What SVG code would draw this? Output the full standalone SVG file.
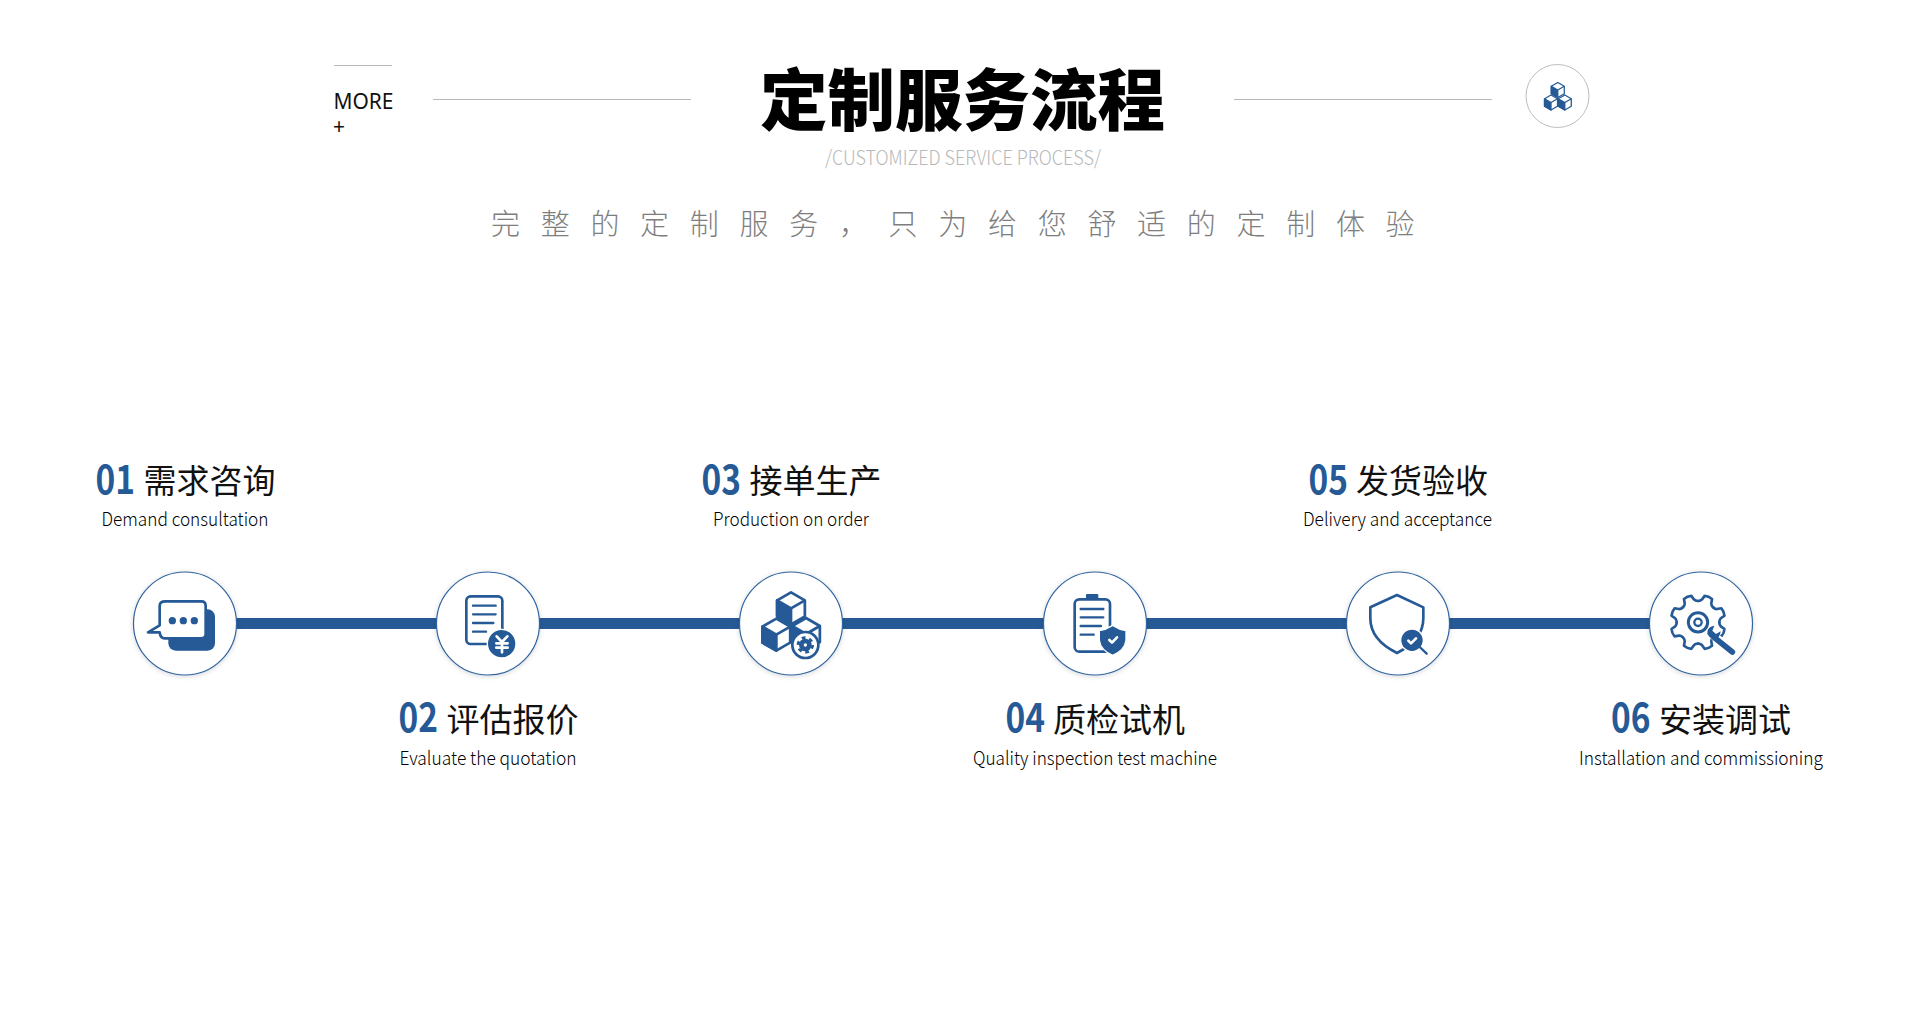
<svg xmlns="http://www.w3.org/2000/svg" xmlns:xlink="http://www.w3.org/1999/xlink" width="1920" height="1025" viewBox="0 0 1920 1025">
<style>
text{font-family:"Noto Sans CJK SC","Noto Sans",sans-serif}
.rule{stroke:#b9b9b9;stroke-width:1;fill:none}
.bar{stroke:#265a96;stroke-width:11;fill:none}
.ring{fill:#fff;stroke:#2f639f;stroke-width:1.2;filter:url(#soft)}
.num{font-weight:700;font-size:40px;fill:#265a96}
.cn{font-weight:400;font-size:33px;fill:#111}
.en{font-weight:300;font-size:19px;fill:#000;text-anchor:middle}
.o{fill:none;stroke:#265a96;stroke-width:8;stroke-linecap:round;stroke-linejoin:round}
.f{fill:#265a96}
.w{fill:none;stroke:#fff;stroke-width:8;stroke-linecap:round;stroke-linejoin:round}
.l{fill:none;stroke:#265a96;stroke-width:7;stroke-linecap:round}
</style>
<defs>
<filter id="soft" x="-20%" y="-20%" width="140%" height="140%"><feDropShadow dx="0" dy="1" stdDeviation="2.500" flood-color="#000" flood-opacity=".16"/></filter>
<g id="cube">
<path d="M0-10 8.660-5V5L0 10-8.660 5V-5Z" fill="#fff" stroke="#265a96" stroke-width="1.700" stroke-linejoin="round"/>
<path d="M-8.660-5 0 0V10L-8.660 5Z" fill="#265a96" stroke="#265a96" stroke-width="1.700" stroke-linejoin="round"/>
<path d="M0 0 8.660-5" fill="none" stroke="#265a96" stroke-width="1.700"/>
</g>
<path id="tooth" d="M-24.500-59Q-17-62-15-68L-12-81Q0-85 12-81L15-68Q17-62 24.500-59" class="o"/>
</defs>
<rect width="1920" height="1025" fill="#fff"/>

<g id="header">
<line class="rule" x1="334" y1="65.500" x2="392" y2="65.500"/>
<text x="333.500" y="109" font-size="21" textLength="60" lengthAdjust="spacingAndGlyphs" fill="#111" style="font-family:'Noto Sans',sans-serif">MORE</text>
<text x="333" y="133.500" font-size="21" fill="#111" style="font-family:'Noto Sans',sans-serif">+</text>
<line class="rule" x1="433" y1="99.500" x2="691" y2="99.500"/>
<line class="rule" x1="1234" y1="99.500" x2="1492" y2="99.500"/>
<text x="760" y="124.500" font-size="67.500" font-weight="900" fill="#000">定制服务流程</text>
<text x="825" y="165" font-size="20" font-weight="300" fill="#b8b8b8" textLength="276" lengthAdjust="spacingAndGlyphs">/CUSTOMIZED SERVICE PROCESS/</text>
<text x="491" y="235" font-size="29" font-weight="300" fill="#7e7e7e" letter-spacing="20.700">完整的定制服务，只为给您舒适的定制体验</text>
<g id="header-badge">
<circle cx="1557.500" cy="96" r="31.500" fill="#fff" stroke="#bdbdbd" stroke-width="1"/>
<use href="#cube" transform="translate(1564.800 102.500) scale(.75)"/>
<use href="#cube" transform="translate(1551 102.500) scale(.75)"/>
<use href="#cube" transform="translate(1557.800 90) scale(.75)"/>
</g>
</g>

<g id="connectors">
<line class="bar" x1="185" y1="623.500" x2="488" y2="623.500"/>
<line class="bar" x1="488" y1="623.500" x2="791" y2="623.500"/>
<line class="bar" x1="791" y1="623.500" x2="1095" y2="623.500"/>
<line class="bar" x1="1095" y1="623.500" x2="1398" y2="623.500"/>
<line class="bar" x1="1398" y1="623.500" x2="1701" y2="623.500"/>
</g>

<g id="node-01">
<circle class="ring" cx="185" cy="623.500" r="51.500"/>
<g transform="translate(120 560) scale(.33333)">
<rect class="f" x="145" y="148" width="140" height="124" rx="22"/>
<path d="M136 124H244Q257 124 257 137V222Q257 235 244 235H134Q121 235 119 217H84L119 196V137Q119 124 136 124Z" fill="#fff" stroke="#265a96" stroke-width="8" stroke-linejoin="round"/>
<circle class="f" cx="157" cy="182" r="11"/><circle class="f" cx="190" cy="182" r="11"/><circle class="f" cx="223" cy="182" r="11"/>
</g>
<text class="num" x="95.500" y="493.500" textLength="39.500" lengthAdjust="spacingAndGlyphs">01</text>
<text class="cn" x="143.500" y="492.500">需求咨询</text>
<text class="en" x="185" y="526" textLength="167" lengthAdjust="spacingAndGlyphs">Demand consultation</text>
</g>

<g id="node-02">
<circle class="ring" cx="488" cy="623.500" r="51.500"/>
<g transform="translate(425 560) scale(.33333)">
<rect class="o" x="124" y="109" width="108" height="143" rx="13"/>
<path class="l" d="M144 137H212M144 163H212M144 189H205M144 215H183"/>
<circle class="f" cx="230" cy="251" r="43" stroke="#fff" stroke-width="4"/>
<path class="w" d="M215 229 231 246 247 229M214 250H248M214 263H248M231 246V277"/>
</g>
<text class="num" x="398.500" y="732" textLength="39.500" lengthAdjust="spacingAndGlyphs">02</text>
<text class="cn" x="446.500" y="731.500">评估报价</text>
<text class="en" x="488" y="765" textLength="177" lengthAdjust="spacingAndGlyphs">Evaluate the quotation</text>
</g>

<g id="node-03">
<circle class="ring" cx="791" cy="623.500" r="51.500"/>
<g transform="translate(722 560) scale(.33333)">
<use href="#cube" transform="translate(252 222) scale(4.800)"/>
<use href="#cube" transform="translate(207 145) scale(4.800)"/>
<use href="#cube" transform="translate(163 224) scale(4.800)"/>
<circle cx="250" cy="255" r="39" fill="#fff" stroke="#265a96" stroke-width="8"/>
<circle class="f" cx="250" cy="255" r="19"/>
<circle cx="250" cy="255" r="22" fill="none" stroke="#265a96" stroke-width="8" stroke-dasharray="11.500 11.540"/>
<circle cx="250" cy="255" r="5" fill="#fff"/>
</g>
<text class="num" x="701.500" y="493.500" textLength="39.500" lengthAdjust="spacingAndGlyphs">03</text>
<text class="cn" x="749.500" y="492.500">接单生产</text>
<text class="en" x="791" y="526" textLength="156" lengthAdjust="spacingAndGlyphs">Production on order</text>
</g>

<g id="node-04">
<circle class="ring" cx="1095" cy="623.500" r="51.500"/>
<g transform="translate(1025 560) scale(.33333)">
<rect class="o" x="149" y="118" width="106" height="157" rx="14"/>
<rect class="f" x="183" y="102" width="37" height="16" rx="3"/>
<path class="l" d="M167 147H235M167 172H235M167 198H228M167 224H206"/>
<path class="f" d="M263 196Q283 209 303 212V240Q300 270 263 286Q226 270 223 240V212Q243 209 263 196Z" stroke="#fff" stroke-width="4"/>
<path class="w" d="M253 240 261 248 276 232"/>
</g>
<text class="num" x="1005.500" y="732" textLength="39.500" lengthAdjust="spacingAndGlyphs">04</text>
<text class="cn" x="1053" y="731.500">质检试机</text>
<text class="en" x="1095" y="765" textLength="244" lengthAdjust="spacingAndGlyphs">Quality inspection test machine</text>
</g>

<g id="node-05">
<circle class="ring" cx="1398" cy="623.500" r="51.500"/>
<g transform="translate(1328 560) scale(.33333)">
<path class="o" d="M207 105 286 142V175Q286 240 207 279Q127 240 127 175V142Z"/>
<circle cx="252" cy="241" r="36" fill="#fff"/>
<path class="l" d="M272 258 296 281"/>
<circle class="f" cx="252" cy="241" r="32"/>
<path class="w" d="M241 242 249 250 264 235"/>
</g>
<text class="num" x="1308.500" y="493.500" textLength="39.500" lengthAdjust="spacingAndGlyphs">05</text>
<text class="cn" x="1356" y="492.500">发货验收</text>
<text class="en" x="1397.500" y="526" textLength="189" lengthAdjust="spacingAndGlyphs">Delivery and acceptance</text>
</g>

<g id="node-06">
<circle class="ring" cx="1701" cy="623.500" r="51.500"/>
<g transform="translate(1632 560) scale(.33333)">
<g transform="translate(198 187)">
<use href="#tooth" transform="rotate(22.500)"/><use href="#tooth" transform="rotate(67.500)"/><use href="#tooth" transform="rotate(112.500)"/><use href="#tooth" transform="rotate(157.500)"/><use href="#tooth" transform="rotate(202.500)"/><use href="#tooth" transform="rotate(247.500)"/><use href="#tooth" transform="rotate(292.500)"/><use href="#tooth" transform="rotate(337.500)"/>
</g>
<circle cx="198" cy="187" r="29" fill="none" stroke="#265a96" stroke-width="9"/>
<circle cx="198" cy="187" r="11" fill="none" stroke="#265a96" stroke-width="7"/>
<path d="M240 222 301 276" fill="none" stroke="#fff" stroke-width="26" stroke-linecap="round"/>
<path d="M246 232 301 276" fill="none" stroke="#265a96" stroke-width="17" stroke-linecap="round"/>
<path class="f" d="M226 222Q224 206 240 199L247 197 241 212 252 222 266 214Q264 236 246 238Q236 238 226 222Z"/>
</g>
<text class="num" x="1611" y="732" textLength="39.500" lengthAdjust="spacingAndGlyphs">06</text>
<text class="cn" x="1659" y="731.500">安装调试</text>
<text class="en" x="1701" y="765" textLength="244" lengthAdjust="spacingAndGlyphs">Installation and commissioning</text>
</g>
</svg>
